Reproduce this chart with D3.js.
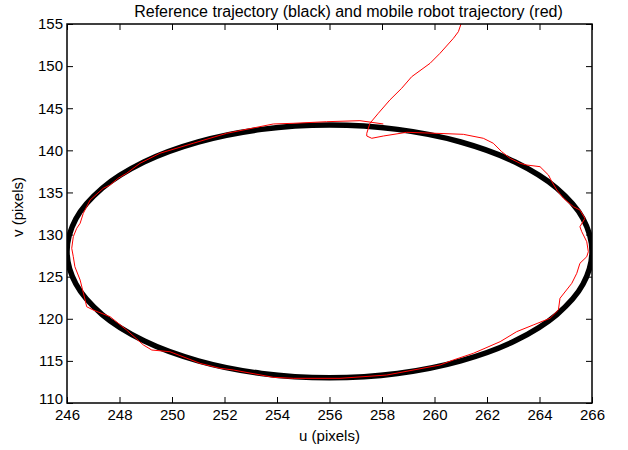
<!DOCTYPE html>
<html><head><meta charset="utf-8">
<script src="https://cdn.jsdelivr.net/npm/d3@7"></script>
<style>body{margin:0;background:#fff}svg{display:block}</style>
</head><body><svg id="c" width="628" height="450"></svg>
<script>
const titleText = "Reference trajectory (black) and mobile robot trajectory (red)";
const xLabel = "u (pixels)";
const yLabel = "v (pixels)";
const uDomain = [246, 266];
const vDomain = [110, 155];
const uTicks = [246, 248, 250, 252, 254, 256, 258, 260, 262, 264, 266];
const vTicks = [110, 115, 120, 125, 130, 135, 140, 145, 150, 155];

// reference trajectory (black ellipse), sampled points
const refU = [266.0,265.66,264.66,263.07,261.0,258.59,256.0,253.41,251.0,248.93,247.34,246.34,246.0,246.34,247.34,248.93,251.0,253.41,256.0,258.59,261.0,263.07,264.66,265.66];
const refV = [128.0,131.88,135.5,138.61,140.99,142.49,143.0,142.49,140.99,138.61,135.5,131.88,128.0,124.12,120.5,117.39,115.01,113.51,113.0,113.51,115.01,117.39,120.5,124.12];

// mobile robot trajectory (red)
const robU = [261.01,260.91,260.72,260.21,259.83,259.13,258.75,258.30,257.86,257.54,257.42,257.42,257.61,258.05,258.94,260.08,261.10,261.86,262.24,262.56,262.88,263.26,263.51,264.02,264.34,264.47,264.66,264.91,265.29,265.54,265.73,265.54,265.61,265.80,265.86,265.80,265.54,265.42,265.23,264.78,264.72,264.40,263.76,263.13,262.50,261.48,260.72,260.21,258.18,256.40,254.62,253.86,252.34,251.83,251.07,249.92,249.23,248.91,248.27,247.64,247.00,246.75,246.69,246.50,246.30,246.24,246.18,246.24,246.37,246.50,246.62,246.88,247.38,247.64,247.95,248.27,248.78,249.54,250.81,252.08,253.86,254.62,255.89,257.16,258.05];
const robV = [155.0,154.09,153.30,151.52,150.33,148.74,147.37,145.98,144.40,143.21,142.02,141.70,141.43,141.70,142.14,142.02,141.90,141.43,140.84,139.84,139.05,138.46,138.26,138.06,137.07,136.28,135.29,134.31,133.31,132.92,131.93,130.93,130.34,129.15,127.96,127.37,126.59,125.40,124.21,122.43,121.04,120.06,119.26,118.47,117.28,115.90,115.11,114.51,113.32,112.93,112.93,113.05,113.92,114.12,114.71,116.09,116.29,116.89,118.67,120.25,121.04,121.43,122.23,124.60,126.18,127.37,128.37,129.75,130.74,131.34,132.52,134.10,135.49,135.88,136.68,137.27,138.46,139.65,140.84,142.02,143.13,143.21,143.40,143.52,143.13];

const svg = d3.select("#c");
const L = 67, R = 592, T = 24, B = 403;
const x = d3.scaleLinear().domain(uDomain).range([L, R]);
const y = d3.scaleLinear().domain(vDomain).range([B, T]);
const font = "'Liberation Sans', Arial, Helvetica, sans-serif";

svg.append("rect").attr("width",628).attr("height",450).attr("fill","#fff");

svg.append("clipPath").attr("id","clip").append("rect")
  .attr("x",L).attr("y",T).attr("width",R-L).attr("height",B-T);

const g = svg.append("g").attr("clip-path","url(#clip)");
const refPts = refU.map((u,i)=>[u, refV[i]]);
const robPts = robU.map((u,i)=>[u, robV[i]]);

g.append("path").datum(refPts)
  .attr("d", d3.line().x(d=>x(d[0])).y(d=>y(d[1])).curve(d3.curveCatmullRomClosed))
  .attr("fill","none").attr("stroke","#000").attr("stroke-width",5.5);

g.append("path").datum(robPts)
  .attr("d", d3.line().x(d=>x(d[0])).y(d=>y(d[1])))
  .attr("fill","none").attr("stroke","#ff0000").attr("stroke-width",1);

function styleAxis(sel, showLabels){
  sel.select(".domain").remove();
  sel.selectAll(".tick line").attr("stroke","#000").attr("stroke-width",1);
  sel.selectAll(".tick text").attr("fill","#000").style("font-family",font).style("font-size","15px");
  if(!showLabels) sel.selectAll(".tick text").remove();
}
const tk = 6;
const xb = svg.append("g").attr("transform",`translate(0,${B})`)
  .call(d3.axisBottom(x).tickValues(uTicks).tickFormat(d3.format("d")).tickSizeInner(-tk).tickSizeOuter(0).tickPadding(6));
styleAxis(xb,true);
const xt = svg.append("g").attr("transform",`translate(0,${T})`)
  .call(d3.axisTop(x).tickValues(uTicks).tickSizeInner(-tk).tickSizeOuter(0));
styleAxis(xt,false);
const yl = svg.append("g").attr("transform",`translate(${L},0)`)
  .call(d3.axisLeft(y).tickValues(vTicks).tickFormat(d3.format("d")).tickSizeInner(-tk).tickSizeOuter(0).tickPadding(4));
styleAxis(yl,true);
yl.selectAll(".tick text").filter(d => d === vTicks[0]).attr("dy","0.05em");
const yr = svg.append("g").attr("transform",`translate(${R},0)`)
  .call(d3.axisRight(y).tickValues(vTicks).tickSizeInner(-tk).tickSizeOuter(0));
styleAxis(yr,false);

svg.append("rect").attr("x",L).attr("y",T).attr("width",R-L).attr("height",B-T)
  .attr("fill","none").attr("stroke","#000").attr("stroke-width",1.5);

svg.append("text").attr("x",348.5).attr("y",17).attr("text-anchor","middle")
  .style("font-family",font).style("font-size","16px").text(titleText);
svg.append("text").attr("x",(L+R)/2).attr("y",441).attr("text-anchor","middle")
  .style("font-family",font).style("font-size","15px").text(xLabel);
svg.append("text").attr("transform",`translate(23,207) rotate(-90)`).attr("text-anchor","middle")
  .style("font-family",font).style("font-size","15px").text(yLabel);
</script>
</body></html>
